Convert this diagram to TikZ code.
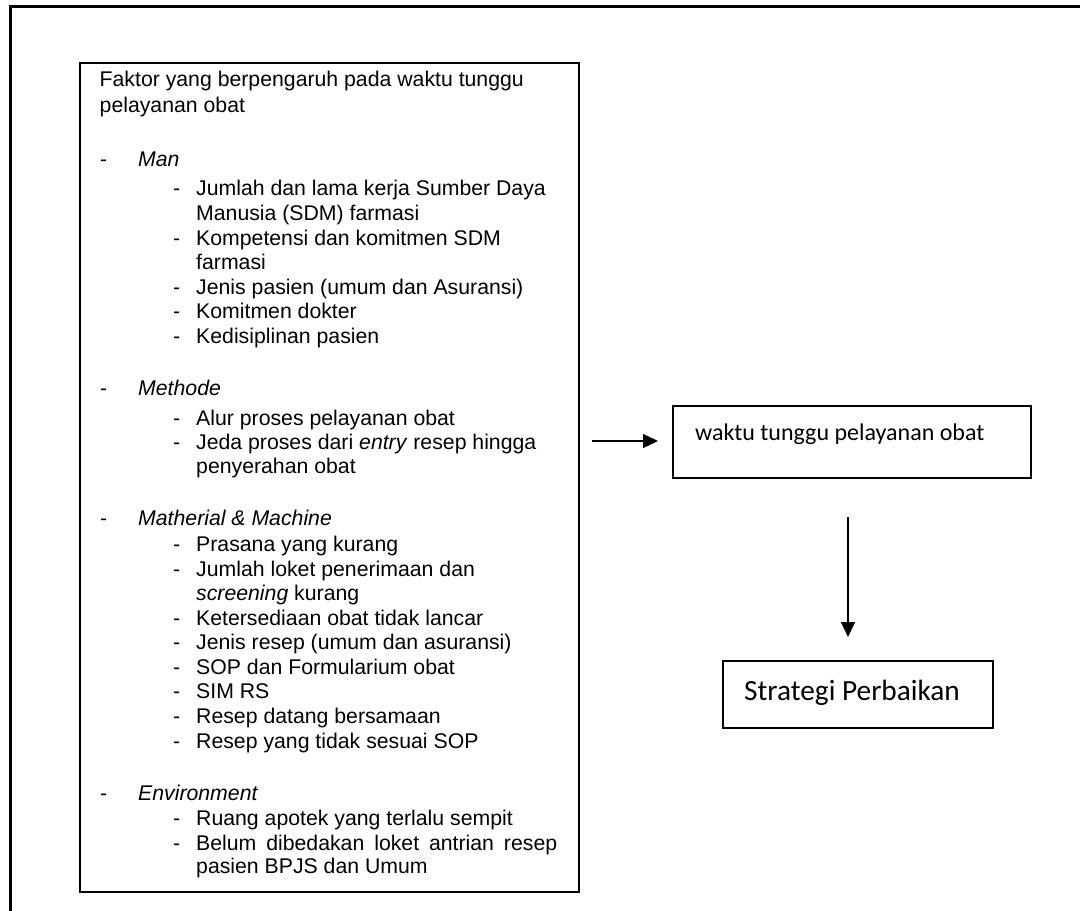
\documentclass[tikz,border=0pt]{standalone}
\usepackage{fontspec}
\setmainfont{Liberation Sans}
\newfontfamily\calibrifont{Carlito}
\usetikzlibrary{arrows.meta}
\begin{document}
\begin{tikzpicture}[x=1pt,y=-1pt,
  box/.style={draw, line width=1.4pt, inner sep=0pt},
  txt/.style={anchor=base west, inner sep=0pt, font=\fontsize{21.25}{25}\selectfont},
  cal/.style={anchor=base west, inner sep=0pt},
  arr/.style={line width=1.3pt, -{Triangle[length=15pt,width=14pt]}}]
\useasboundingbox (0,0) rectangle (1080,911);

% page frame (runs past the right and bottom edges, cut at the page)
\begin{scope}
  \clip (0,0) rectangle (1080,911);
  \draw[line width=2.8pt] (10.5,930) -- (10.5,6.8) -- (1100,6.8);
\end{scope}

% boxes
\node[box, minimum width=499pt, minimum height=829pt] (factors) at (329.5,477.5) {};
\node[box, minimum width=358pt, minimum height=72pt] (wt) at (852,442) {};
\node[box, minimum width=270pt, minimum height=67pt] (strat) at (858,694.5) {};

% factor list
\node[txt] (h1) at (99.5,86) {Faktor yang berpengaruh pada waktu tunggu};
\node[txt] (h2) at (99.5,112.5) {pelayanan obat};

\node[txt] (d1) at (100,166) {-};
\node[txt] (c1) at (138,166) {\itshape Man};
\node[txt] at (173,195) {-};
\node[txt] at (196,195) {Jumlah dan lama kerja Sumber Daya};
\node[txt] at (196,220) {Manusia (SDM) farmasi};
\node[txt] at (173,245) {-};
\node[txt] at (196,245) {Kompetensi dan komitmen SDM};
\node[txt] at (196,269) {farmasi};
\node[txt] at (173,294) {-};
\node[txt] at (196,294) {Jenis pasien (umum dan Asuransi)};
\node[txt] at (173,318) {-};
\node[txt] at (196,318) {Komitmen dokter};
\node[txt] at (173,343) {-};
\node[txt] at (196,343) {Kedisiplinan pasien};

\node[txt] (d2) at (100,395) {-};
\node[txt] (c2) at (138,395) {\itshape Methode};
\node[txt] at (173,425) {-};
\node[txt] at (196,425) {Alur proses pelayanan obat};
\node[txt] at (173,449) {-};
\node[txt] at (196,449) {Jeda proses dari \textit{entry} resep hingga};
\node[txt] at (196,473) {penyerahan obat};

\node[txt] (d3) at (100,525) {-};
\node[txt] (c3) at (138,525) {\itshape Matherial \& Machine};
\node[txt] at (173,551) {-};
\node[txt] at (196,551) {Prasana yang kurang};
\node[txt] at (173,576) {-};
\node[txt] at (196,576) {Jumlah loket penerimaan dan};
\node[txt] at (196,600) {\textit{screening} kurang};
\node[txt] at (173,625) {-};
\node[txt] at (196,625) {Ketersediaan obat tidak lancar};
\node[txt] at (173,649) {-};
\node[txt] at (196,649) {Jenis resep (umum dan asuransi)};
\node[txt] at (173,674) {-};
\node[txt] at (196,674) {SOP dan Formularium obat};
\node[txt] at (173,698) {-};
\node[txt] at (196,698) {SIM RS};
\node[txt] at (173,723) {-};
\node[txt] at (196,723) {Resep datang bersamaan};
\node[txt] at (173,748) {-};
\node[txt] at (196,748) {Resep yang tidak sesuai SOP};

\node[txt] (d4) at (100,800) {-};
\node[txt] (c4) at (138,800) {\itshape Environment};
\node[txt] at (173,825) {-};
\node[txt] at (196,825) {Ruang apotek yang terlalu sempit};
\node[txt] at (173,850) {-};
\node[txt] at (196,850) {\makebox[361pt][s]{Belum dibedakan loket antrian resep}};
\node[txt] at (196,873) {pasien BPJS dan Umum};

% right-hand texts
\node[cal, font=\calibrifont\fontsize{24}{28}\selectfont] (wtlabel) at (695,440) {waktu tunggu pelayanan obat};
\node[cal, font=\calibrifont\fontsize{29.3}{34}\selectfont] (stratlabel) at (744,700) {Strategi Perbaikan};

% connectors
\coordinate (a1s) at (592,441);
\coordinate (a1e) at (658,441);
\coordinate (a2s) at (848,517);
\coordinate (a2e) at (848,637);
\draw[arr] (a1s) -- (a1e);
\draw[arr] (a2s) -- (a2e);
\end{tikzpicture}
\end{document}
